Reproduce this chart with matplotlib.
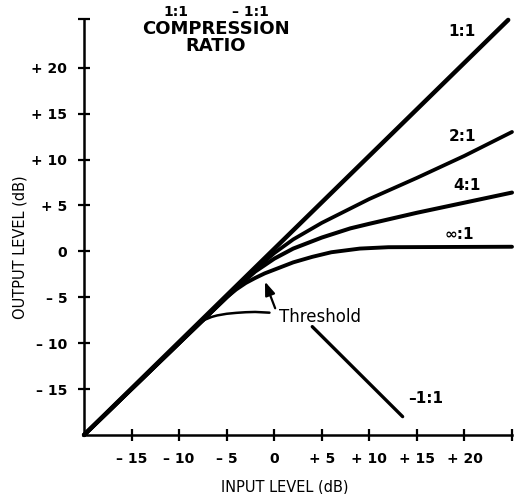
import matplotlib
matplotlib.use("Agg")
import matplotlib.pyplot as plt

# curves (input dB -> output dB)
ratio_1_x = [-20, 24.6]
ratio_1_y = [-20, 25.2]

ratio_2_x = [-20, -4, -2, 0, 2, 5, 10, 15, 20, 25]
ratio_2_y = [-20, -4, -2.0, -0.2, 1.3, 3.1, 5.7, 8.0, 10.4, 13.0]

ratio_4_x = [-20, -4, -2, 0, 2, 5, 8, 10, 15, 20, 25]
ratio_4_y = [-20, -4, -2.2, -0.8, 0.3, 1.5, 2.5, 3.0, 4.2, 5.3, 6.4]

ratio_inf_x = [-20, -5, -4, -3, -2, -1, 0, 1, 2, 4, 6, 9, 12, 25]
ratio_inf_y = [-20, -5, -4.15, -3.45, -2.9, -2.4, -2.0, -1.6, -1.2, -0.6, -0.1, 0.3, 0.45, 0.5]

neg_left_x = [-7.8, -7.3, -6.6, -6.0, -5.0, -4.0, -3.0, -2.0, -0.5]
neg_left_y = [-7.8, -7.45, -7.15, -6.98, -6.8, -6.7, -6.63, -6.6, -6.68]
neg_right_x = [4.0, 13.5]
neg_right_y = [-8.2, -18.0]

x_ticks = [-15, -10, -5, 0, 5, 10, 15, 20]
x_tick_labels = ["\u2013 15", "\u2013 10", "\u2013 5", "0", "+ 5", "+ 10", "+ 15", "+ 20"]
y_ticks = [-15, -10, -5, 0, 5, 10, 15, 20]
y_tick_labels = ["\u2013 15", "\u2013 10", "\u2013 5", "0", "+ 5", "+ 10", "+ 15", "+ 20"]

curve_labels = ["1:1", "2:1", "4:1", "\u221e:1", "\u20131:1"]
label_x = [19.75, 19.75, 20.3, 19.5, 15.9]
label_y = [23.9, 12.5, 7.2, 1.8, -16.0]

fig = plt.figure(figsize=(5.14, 4.94), dpi=100)
ax = fig.add_axes([84 / 514, 59 / 494, 428 / 514, 416 / 494])
ax.set_xlim(-20, 25)
ax.set_ylim(-20, 25.3)

ax.plot(ratio_1_x, ratio_1_y, color="black", lw=3.2, solid_capstyle="round", clip_on=False)
ax.plot(ratio_2_x, ratio_2_y, color="black", lw=2.7, solid_capstyle="round", clip_on=False)
ax.plot(ratio_4_x, ratio_4_y, color="black", lw=2.9, solid_capstyle="round", clip_on=False)
ax.plot(ratio_inf_x, ratio_inf_y, color="black", lw=2.8, solid_capstyle="round", clip_on=False)
ax.plot(neg_left_x, neg_left_y, color="black", lw=1.8, solid_capstyle="round")
ax.plot(neg_right_x, neg_right_y, color="black", lw=2.4, solid_capstyle="round")

for s in ["top", "right"]:
    ax.spines[s].set_visible(False)
for s in ["left", "bottom"]:
    ax.spines[s].set_linewidth(1.8)

ax.set_xticks(x_ticks + [25])
ax.set_xticklabels(x_tick_labels + [""])
ax.set_yticks(y_ticks + [25.3])
ax.set_yticklabels(y_tick_labels + [""])
ax.tick_params(direction="inout", length=8, width=1.6, labelsize=10, pad=8)
for t in ax.get_xticklabels() + ax.get_yticklabels():
    t.set_fontweight("bold")

for txt, x, y in zip(curve_labels, label_x, label_y):
    ax.text(x, y, txt, ha="center", va="center", fontsize=11, fontweight="bold")

# threshold arrow and its label
ax.annotate("", xy=(-0.97, -3.3), xytext=(0.1, -6.2),
            arrowprops=dict(arrowstyle="-|>,head_length=0.8,head_width=0.3",
                            color="black", lw=1.6, shrinkA=0, shrinkB=0))
ax.text(0.45, -7.15, "Threshold", ha="left", va="center", fontsize=12)

fig.text(176 / 514, 1 - 12 / 494, "1:1", ha="center", va="center", fontsize=10, fontweight="bold")
fig.text(250 / 514, 1 - 12 / 494, "\u2013 1:1", ha="center", va="center", fontsize=10, fontweight="bold")
fig.text(216 / 514, 1 - 28.5 / 494, "COMPRESSION", ha="center", va="center", fontsize=13, fontweight="bold")
fig.text(216 / 514, 1 - 46 / 494, "RATIO", ha="center", va="center", fontsize=13, fontweight="bold")

fig.text(285 / 514, 1 - 487 / 494, "INPUT LEVEL (dB)", ha="center", va="center", fontsize=10.5)
fig.text(20 / 514, 1 - 247 / 494, "OUTPUT LEVEL (dB)", ha="center", va="center", fontsize=10.5, rotation=90)

fig.savefig("out.png", dpi=100)
